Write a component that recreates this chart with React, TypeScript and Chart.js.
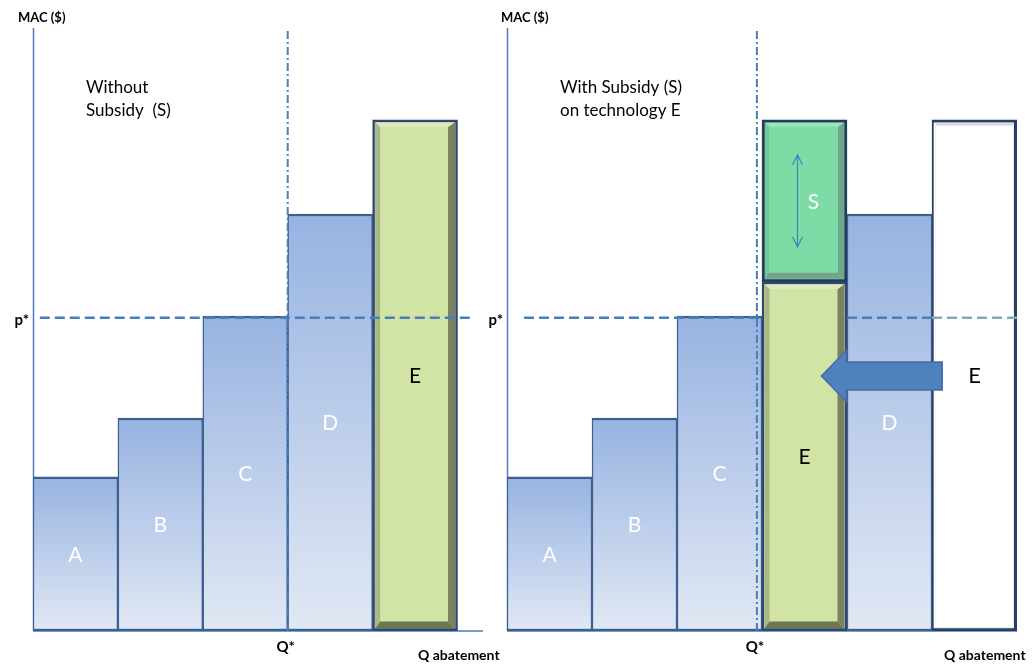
import React, { useEffect, useRef } from 'react';
import { Chart, registerables } from 'chart.js';

Chart.register(...registerables);

// ---------------- data ----------------
const leftCategories = ['A', 'B', 'C', 'D', 'E'];
const leftMac = [25.7, 35.5, 52.5, 69.5, 85.2];
const leftKinds = ['blue', 'blue', 'blue', 'blue', 'green'];

const rightCategories = ['A', 'B', 'C', 'E', 'D', 'E'];
const rightMac = [25.7, 35.5, 52.5, 58.2, 69.5, 85.2];
const rightKinds = ['blue', 'blue', 'blue', 'green', 'blue', 'empty'];

const subsidyIndex = 3;
const subsidyAmount = 27.0;
const subsidyLabel = 'S';

const pStar = 52.2;
const leftQStar = 3.0;
const rightQStar = 2.94;
const leftPStarRuns = [[0.08, 5.2]];
const rightPStarRuns = [[0.2, 3.0], [4.0, 5.0, 6.0]];

const arrowTail = 5.12;
const arrowTip = 3.7;
const arrowLevel = 42.5;

const yTop = 100.5;
const leftXMax = 5.3;
const rightXMax = 6;

const leftTitle = ['Without', 'Subsidy  (S)'];
const rightTitle = ['With Subsidy (S)', 'on technology E'];
const yAxisLabel = 'MAC ($)';
const xAxisLabel = 'Q abatement';
const pLabel = 'p*';
const qLabel = 'Q*';

// ---------------- styles ----------------
const FONT = 'Lato, "DejaVu Sans", sans-serif';
const AXIS = '#4f7cba';
const LINE = '#4a7ebb';
const W = 1033;
const H = 666;

type Spec = {
  id: string;
  categories: string[];
  mac: number[];
  kinds: string[];
  pRuns: number[][];
  qStar: number;
  xMax: number;
  title: string[];
  padLeft: number;
  padRight: number;
  macDx: number;
  qabDx: number;
  subsidy?: { index: number; amount: number };
  arrow?: { tail: number; tip: number; level: number };
};

const leftSpec: Spec = {
  id: 'left', categories: leftCategories, mac: leftMac, kinds: leftKinds,
  pRuns: leftPStarRuns, qStar: leftQStar, xMax: leftXMax, title: leftTitle,
  padLeft: 33, padRight: 550, macDx: -15, qabDx: -65,
};
const rightSpec: Spec = {
  id: 'right', categories: rightCategories, mac: rightMac, kinds: rightKinds,
  pRuns: rightPStarRuns, qStar: rightQStar, xMax: rightXMax, title: rightTitle,
  padLeft: 507, padRight: 16, macDx: -6, qabDx: -73,
  subsidy: { index: subsidyIndex, amount: subsidyAmount },
  arrow: { tail: arrowTail, tip: arrowTip, level: arrowLevel },
};

function poly(ctx: CanvasRenderingContext2D, pts: number[][], color: string) {
  ctx.beginPath();
  ctx.moveTo(pts[0][0], pts[0][1]);
  for (let i = 1; i < pts.length; i++) ctx.lineTo(pts[i][0], pts[i][1]);
  ctx.closePath();
  ctx.fillStyle = color;
  ctx.fill();
}

function bevel(ctx: CanvasRenderingContext2D, l: number, t: number, r: number, b: number, bw: number,
  s: { t: number; l: number; r: number; b: number }, c: { t: string; l: string; r: string; b: string }) {
  const L = l + bw, T = t + bw, R = r - bw, B = b - bw;
  poly(ctx, [[L, T], [R, T], [R - s.r, T + s.t], [L + s.l, T + s.t]], c.t);
  poly(ctx, [[L, T], [L + s.l, T + s.t], [L + s.l, B - s.b], [L, B]], c.l);
  poly(ctx, [[R, T], [R, B], [R - s.r, B - s.b], [R - s.r, T + s.t]], c.r);
  poly(ctx, [[L, B], [L + s.l, B - s.b], [R - s.r, B - s.b], [R, B]], c.b);
}

function barBox(el: any) {
  const p = el.getProps(['x', 'y', 'base', 'width'], true);
  return {
    l: p.x - p.width / 2, r: p.x + p.width / 2,
    t: Math.min(p.y, p.base), b: Math.max(p.y, p.base),
    cx: p.x, cy: (p.y + p.base) / 2,
  };
}

function makePlugin(spec: Spec) {
  return {
    id: 'decor-' + spec.id,
    beforeDatasetsDraw(chart: any) {
      const ctx = chart.ctx as CanvasRenderingContext2D;
      const a = chart.chartArea;
      ctx.save();
      ctx.strokeStyle = AXIS;
      ctx.lineWidth = 1.5;
      ctx.beginPath();
      ctx.moveTo(a.left + 0.5, a.top);
      ctx.lineTo(a.left + 0.5, a.bottom);
      ctx.moveTo(a.left, a.bottom);
      ctx.lineTo(a.right, a.bottom);
      ctx.stroke();
      ctx.restore();
    },
    afterDatasetDraw(chart: any, args: any) {
      const ctx = chart.ctx as CanvasRenderingContext2D;
      if (args.index === 0) {
        args.meta.data.forEach((el: any, i: number) => {
          const k = spec.kinds[i];
          const bx = barBox(el);
          if (k === 'green') {
            bevel(ctx, bx.l, bx.t, bx.r, bx.b, 2.5, { t: 5, l: 5, r: 7, b: 7 },
              { t: '#e0eac0', l: '#a9b886', r: '#7a8260', b: '#6e7656' });
          } else if (k === 'empty') {
            bevel(ctx, bx.l, bx.t, bx.r, bx.b, 3, { t: 3, l: 1, r: 1, b: 1 },
              { t: '#d9dee6', l: '#f4f5f8', r: '#eceef2', b: '#e6e8ee' });
          }
        });
      } else if (args.index === 1 && spec.subsidy) {
        args.meta.data.forEach((el: any) => {
          const bx = barBox(el);
          bevel(ctx, bx.l, bx.t, bx.r, bx.b, 3, { t: 4, l: 4, r: 6, b: 6 },
            { t: '#98e6bc', l: '#72c797', r: '#6fa888', b: '#74a58a' });
        });
      }
    },
    afterDatasetsDraw(chart: any) {
      const ctx = chart.ctx as CanvasRenderingContext2D;
      const a = chart.chartArea;
      const xs = chart.scales.x;
      const ys = chart.scales.y;
      ctx.save();
      ctx.textAlign = 'center';
      ctx.textBaseline = 'middle';
      // bar labels
      const m0 = chart.getDatasetMeta(0);
      m0.data.forEach((el: any, i: number) => {
        const k = spec.kinds[i];
        const bx = barBox(el);
        ctx.fillStyle = k === 'blue' ? '#ffffff' : '#000000';
        ctx.font = (k === 'empty' ? '22px ' : '21px ') + FONT;
        ctx.fillText(spec.categories[i], bx.cx, bx.cy + 1);
      });
      // subsidy label and double arrow
      if (spec.subsidy) {
        const el = chart.getDatasetMeta(1).data[0];
        const bx = barBox(el);
        ctx.fillStyle = '#ffffff';
        ctx.font = '21px ' + FONT;
        ctx.fillText(subsidyLabel, bx.cx + 9, bx.cy + 1);
        const ax = bx.cx - 7;
        const y1 = bx.t + 35, y2 = bx.b - 35;
        ctx.strokeStyle = LINE;
        ctx.lineWidth = 1.2;
        ctx.beginPath();
        ctx.moveTo(ax, y1); ctx.lineTo(ax, y2);
        ctx.moveTo(ax - 5, y1 + 10); ctx.lineTo(ax, y1); ctx.lineTo(ax + 5, y1 + 10);
        ctx.moveTo(ax - 5, y2 - 10); ctx.lineTo(ax, y2); ctx.lineTo(ax + 5, y2 - 10);
        ctx.stroke();
      }
      // big arrow
      if (spec.arrow) {
        const tip = xs.getPixelForValue(spec.arrow.tip);
        const tail = xs.getPixelForValue(spec.arrow.tail);
        const yc = ys.getPixelForValue(spec.arrow.level);
        const hb = tip + 25;
        const pts = [[tip, yc], [hb, yc - 26], [hb, yc - 14], [tail, yc - 14], [tail, yc + 14], [hb, yc + 14], [hb, yc + 26]];
        ctx.beginPath();
        ctx.moveTo(pts[0][0], pts[0][1]);
        for (let i = 1; i < pts.length; i++) ctx.lineTo(pts[i][0], pts[i][1]);
        ctx.closePath();
        ctx.fillStyle = '#4f81bd';
        ctx.fill();
        ctx.strokeStyle = '#3f6da6';
        ctx.lineWidth = 1.5;
        ctx.stroke();
      }
      // texts
      ctx.fillStyle = '#000000';
      ctx.textAlign = 'left';
      ctx.font = 'bold 13px ' + FONT;
      ctx.fillText(yAxisLabel, a.left + spec.macDx, 18);
      ctx.font = '17px ' + FONT;
      ctx.fillText(spec.title[0], a.left + 53, 88);
      ctx.fillText(spec.title[1], a.left + 53, 111);
      ctx.font = 'bold 15px ' + FONT;
      ctx.textAlign = 'right';
      ctx.fillText(pLabel, a.left - 4, ys.getPixelForValue(pStar) + 2);
      ctx.textAlign = 'center';
      ctx.font = 'bold 15px ' + FONT;
      ctx.fillText(qLabel, xs.getPixelForValue(spec.qStar) - 2, a.bottom + 16);
      ctx.textAlign = 'left';
      ctx.font = 'bold 14px ' + FONT;
      ctx.fillText(xAxisLabel, a.right + spec.qabDx, a.bottom + 24);
      ctx.restore();
    },
  };
}

function buildConfig(spec: Spec): any {
  const kinds = spec.kinds;
  const fill = (c: any) => {
    const k = kinds[c.dataIndex];
    if (k === 'green') return '#d1e3a5';
    if (k === 'empty') return '#ffffff';
    const ys = c.chart.scales && c.chart.scales.y;
    if (!ys || !c.raw) return '#b8c9ea';
    const top = ys.getPixelForValue(c.raw.y);
    const base = ys.getPixelForValue(0);
    if (!isFinite(top) || !isFinite(base) || top === base) return '#b8c9ea';
    const g = c.chart.ctx.createLinearGradient(0, top, 0, base);
    g.addColorStop(0, '#97b3e1');
    g.addColorStop(1, '#e1e8f4');
    return g;
  };
  const border = (c: any) => {
    const k = kinds[c.dataIndex];
    if (k === 'green') return '#2c4770';
    if (k === 'empty') return '#283f63';
    return '#3e6090';
  };
  const bwidth = (c: any) => {
    const k = kinds[c.dataIndex];
    if (k === 'green') return { top: 3, bottom: 3, left: 2.5, right: 2.5 };
    if (k === 'empty') return { top: 3, bottom: 3, left: 2, right: 3.5 };
    return { top: 2.5, bottom: 2.5, left: 1.5, right: 1.5 };
  };

  const datasets: any[] = [
    {
      type: 'bar',
      label: 'MAC',
      data: spec.mac.map((v, i) => ({ x: i + 0.5, y: v })),
      backgroundColor: fill,
      borderColor: border,
      borderWidth: bwidth,
      borderSkipped: false,
      grouped: false,
      categoryPercentage: 1,
      barPercentage: 1,
      order: 2,
    },
  ];
  if (spec.subsidy) {
    const base = spec.mac[spec.subsidy.index];
    datasets.push({
      type: 'bar',
      label: 'Subsidy',
      data: [{ x: spec.subsidy.index + 0.5, y: [base, base + spec.subsidy.amount] }],
      backgroundColor: '#7ddca6',
      borderColor: '#233b5d',
      borderWidth: 3,
      borderSkipped: false,
      grouped: false,
      categoryPercentage: 1,
      barPercentage: 1,
      order: 2,
    });
  } else {
    datasets.push({ type: 'bar', label: 'none', data: [], grouped: false, order: 2 });
  }
  const pData: any[] = [];
  spec.pRuns.forEach((run, ri) => {
    if (ri > 0) pData.push({ x: (spec.pRuns[ri - 1][spec.pRuns[ri - 1].length - 1] + run[0]) / 2, y: null });
    run.forEach((x) => pData.push({ x, y: pStar }));
  });
  datasets.push({
    type: 'line',
    label: 'p*',
    data: pData,
    borderColor: LINE,
    borderWidth: 2.5,
    borderDash: [10, 5],
    pointRadius: 0,
    fill: false,
    spanGaps: false,
    clip: false,
    order: 0,
    segment: {
      borderColor: (c: any) => (spec.subsidy && c.p0.parsed.x >= 5 ? '#82a9ba' : undefined),
    },
  });
  datasets.push({
    type: 'line',
    label: 'Q*',
    data: [{ x: spec.qStar, y: 0 }, { x: spec.qStar, y: yTop }],
    borderColor: LINE,
    borderWidth: 2,
    borderDash: [8, 3, 2, 3],
    pointRadius: 0,
    fill: false,
    clip: false,
    order: 0,
  });

  return {
    type: 'bar',
    data: { datasets },
    options: {
      animation: false,
      responsive: false,
      maintainAspectRatio: false,
      events: [],
      layout: { padding: { left: spec.padLeft, right: spec.padRight, top: 28, bottom: 35 } },
      plugins: { legend: { display: false }, tooltip: { enabled: false }, title: { display: false } },
      scales: {
        x: {
          type: 'linear', display: false, min: 0, max: spec.xMax, offset: false,
          ticks: { stepSize: 1, includeBounds: false }, grid: { display: false },
        },
        y: {
          type: 'linear', display: false, min: 0, max: yTop,
          ticks: { stepSize: 10 }, grid: { display: false },
        },
      },
    },
    plugins: [makePlugin(spec)],
  };
}

function Panel({ spec }: { spec: Spec }) {
  const ref = useRef<HTMLCanvasElement>(null);
  useEffect(() => {
    const chart = new Chart(ref.current as HTMLCanvasElement, buildConfig(spec));
    return () => chart.destroy();
  }, [spec]);
  return (
    <canvas
      ref={ref}
      width={W}
      height={H}
      style={{ position: 'absolute', left: 0, top: 0, width: W, height: H, display: 'block' }}
    />
  );
}

export default function App() {
  return (
    <div style={{ position: 'fixed', left: 0, top: 0, width: W, height: H, background: '#ffffff', overflow: 'hidden' }}>
      <Panel spec={leftSpec} />
      <Panel spec={rightSpec} />
    </div>
  );
}
